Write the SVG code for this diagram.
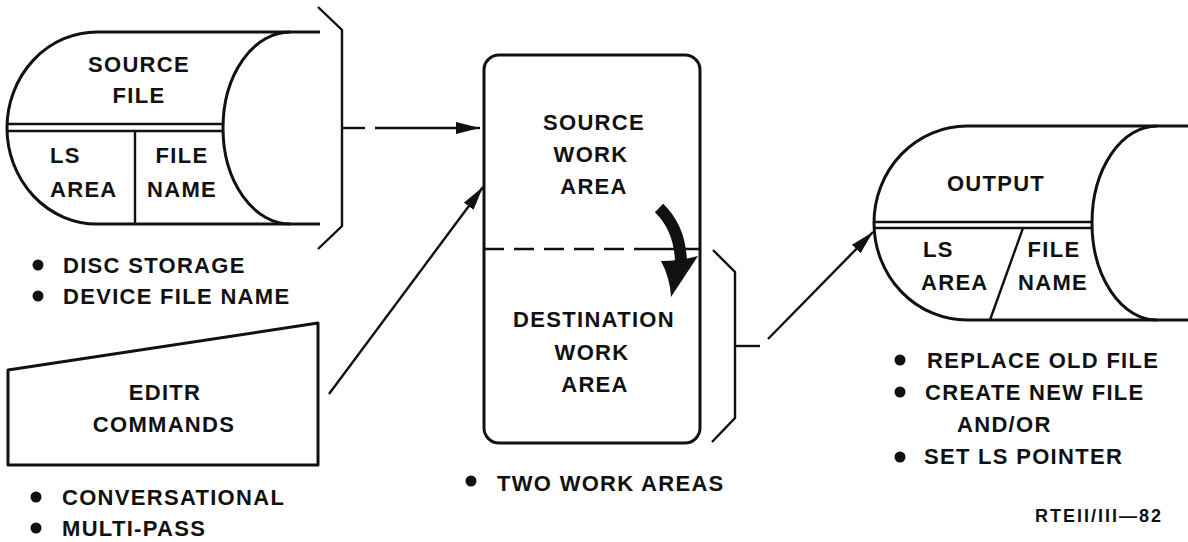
<svg xmlns="http://www.w3.org/2000/svg" width="1188" height="542" viewBox="0 0 1188 542">
  <style>
    .ln { fill: none; stroke: #111; stroke-width: 3; stroke-linejoin: round; }
    .thin { fill: none; stroke: #111; stroke-width: 2.4; }
    .t { font-family: "Liberation Sans", Arial, sans-serif; font-weight: bold; font-size: 22px; letter-spacing: 1.3px; fill: #111; }
    .c { text-anchor: middle; }
    .dot { fill: #111; }
  </style>
  <defs>
    <marker id="arrow" viewBox="0 0 24 12" refX="24" refY="6" markerWidth="24" markerHeight="12" markerUnits="userSpaceOnUse" orient="auto">
      <path d="M0 0 L24 6 L0 12 Z" fill="#111"/>
    </marker>
  </defs>
  <rect width="1188" height="542" fill="#ffffff"/>

  <!-- source file (disc) -->
  <g id="source-file">
    <path class="ln" d="M320 32 H97 A90 96 0 0 0 97 224 H320"/>
    <path class="ln" d="M290 32 A67 96 0 0 0 290 224"/>
    <line class="thin" x1="8" y1="124" x2="223" y2="124"/>
    <line class="thin" x1="8" y1="131" x2="223" y2="131"/>
    <line class="thin" x1="135" y1="131" x2="135" y2="224"/>
    <text class="t c" x="139" y="72">SOURCE</text>
    <text class="t c" x="139" y="103">FILE</text>
    <text class="t" x="50" y="163">LS</text>
    <text class="t" x="50" y="197">AREA</text>
    <text class="t c" x="182" y="163">FILE</text>
    <text class="t c" x="182" y="197">NAME</text>
    <polyline class="thin" points="318,7 342,30 342,226 318,249"/>
  </g>

  <g id="source-notes">
    <circle class="dot" cx="38" cy="265" r="5.5"/>
    <text class="t" x="63" y="273">DISC STORAGE</text>
    <circle class="dot" cx="38" cy="296" r="5.5"/>
    <text class="t" x="63" y="304">DEVICE FILE NAME</text>
  </g>

  <!-- editor commands (manual input) -->
  <g id="editr-commands">
    <polygon class="ln" points="8,370 318,323 318,465 8,465"/>
    <text class="t c" x="165" y="400">EDITR</text>
    <text class="t c" x="164" y="432">COMMANDS</text>
    <circle class="dot" cx="36" cy="497" r="5.5"/>
    <text class="t" x="62" y="505">CONVERSATIONAL</text>
    <circle class="dot" cx="36" cy="528" r="5.5"/>
    <text class="t" x="62" y="536">MULTI-PASS</text>
  </g>

  <!-- work areas -->
  <g id="work-areas">
    <rect class="ln" x="484" y="55" width="216" height="388" rx="15"/>
    <line class="thin" x1="484" y1="249" x2="650" y2="249" stroke-dasharray="20 10"/>
    <line class="thin" x1="650" y1="249" x2="700" y2="249"/>
    <text class="t c" x="594" y="130">SOURCE</text>
    <text class="t c" x="591" y="162">WORK</text>
    <text class="t c" x="594" y="194">AREA</text>
    <text class="t c" x="594" y="327">DESTINATION</text>
    <text class="t c" x="592" y="360">WORK</text>
    <text class="t c" x="595" y="392">AREA</text>
    <!-- copy arrow between the two areas -->
    <path d="M659 208 Q680 228 681 262" fill="none" stroke="#111" stroke-width="12"/>
    <path d="M661 261 Q680 261 698 256 L671 297 Q670 278 661 261 Z" fill="#111"/>
    <polyline class="thin" points="713,250 735,272 735,418 712,442"/>
    <circle class="dot" cx="471" cy="481" r="5.5"/>
    <text class="t" x="497" y="491">TWO WORK AREAS</text>
  </g>

  <!-- output file (disc) -->
  <g id="output-file">
    <path class="ln" d="M1188 126 H967 A93 97 0 0 0 967 320 H1188"/>
    <path class="ln" d="M1157 126 A65 97 0 0 0 1157 320"/>
    <line class="thin" x1="875" y1="222" x2="1092" y2="222"/>
    <line class="thin" x1="875" y1="228" x2="1092" y2="228"/>
    <line class="thin" x1="1023" y1="228" x2="990" y2="320"/>
    <text class="t c" x="996" y="191">OUTPUT</text>
    <text class="t" x="923" y="257">LS</text>
    <text class="t" x="921" y="290">AREA</text>
    <text class="t c" x="1054" y="257">FILE</text>
    <text class="t c" x="1053" y="290">NAME</text>
  </g>

  <g id="output-notes">
    <circle class="dot" cx="900" cy="360" r="5.5"/>
    <text class="t" x="927" y="368">REPLACE OLD FILE</text>
    <circle class="dot" cx="900" cy="392" r="5.5"/>
    <text class="t" x="925" y="400">CREATE NEW FILE</text>
    <text class="t" x="957" y="432">AND/OR</text>
    <circle class="dot" cx="900" cy="457" r="5.5"/>
    <text class="t" x="924" y="464">SET LS POINTER</text>
    <text class="t" x="1163" y="522" style="font-size:18px;letter-spacing:2px;text-anchor:end">RTEII/III—82</text>
  </g>

  <g id="connectors">
    <line class="thin" x1="342" y1="128" x2="365" y2="128"/>
    <line class="thin" x1="375" y1="128" x2="480" y2="128" marker-end="url(#arrow)"/>
    <line class="thin" x1="329" y1="394" x2="483" y2="187" marker-end="url(#arrow)"/>
    <line class="thin" x1="735" y1="346" x2="760" y2="346"/>
    <line class="thin" x1="768" y1="339" x2="873" y2="232" marker-end="url(#arrow)"/>
  </g>
</svg>
